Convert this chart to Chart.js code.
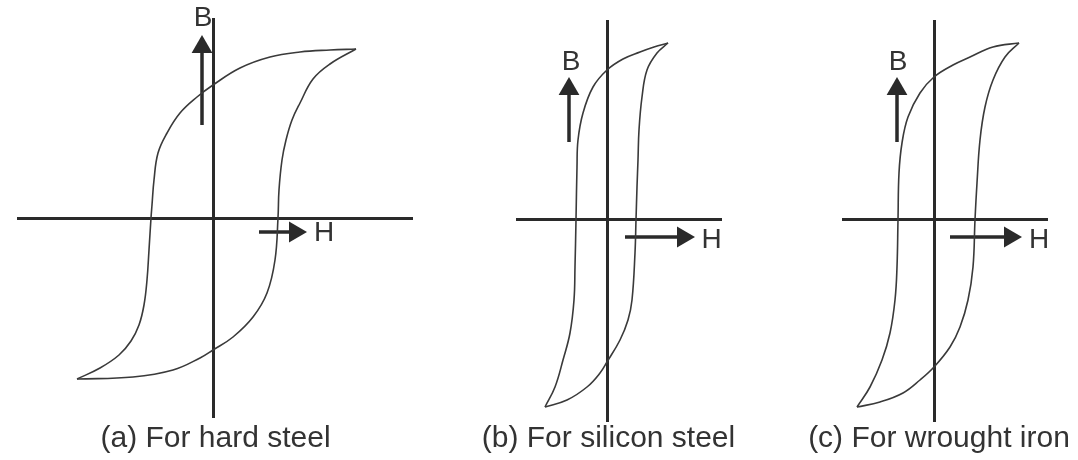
<!DOCTYPE html>
<html>
<head>
<meta charset="utf-8">
<script src="https://cdn.jsdelivr.net/npm/chart.js@4.4.1/dist/chart.umd.min.js"></script>
<style>
  html, body { margin: 0; padding: 0; background: #fff; }
  #wrap { position: relative; width: 1078px; height: 460px; }
  canvas { position: absolute; top: 0; }
</style>
</head>
<body>
<div id="wrap">
  <canvas id="hard" width="430" height="460" style="left:0px"></canvas>
  <canvas id="silicon" width="300" height="460" style="left:460px"></canvas>
  <canvas id="iron" width="288" height="460" style="left:790px"></canvas>
</div>
<script>
// Loop values (H to the right, B upwards, origin where the axes cross)
// (a) hard steel
const hardUpperH = [143, 117, 87, 57, 27, 0, -16, -33, -46, -55, -59, -61, -62, -64, -66, -69, -74, -82, -94, -113, -136];
const hardUpperB = [169, 168, 166, 161, 150, 133, 121, 105, 85, 65, 38, 13, 0, -32, -62, -87, -107, -123, -137, -150, -161];
const hardLowerH = [-136, -80, -40, -13, 0, 20, 40, 54, 62, 65, 66, 69, 73, 79, 87, 100, 117, 143];
const hardLowerB = [-161, -159, -152, -140, -132, -119, -99, -75, -42, 0, 28, 58, 78, 98, 115, 139, 154, 169];

// (b) silicon steel
const siliconUpperH = [61, 47, 33, 16, 0, -14, -24, -29, -30, -31, -32, -33, -37, -44, -52, -62];
const siliconUpperB = [177, 173, 168, 161, 150, 133, 107, 80, 53, 0, -47, -80, -113, -140, -167, -187];
const siliconLowerH = [-62, -40, -20, -7, 0, 13, 21, 25, 28, 29, 30, 31, 32, 35, 40, 50, 61];
const siliconLowerB = [-187, -180, -167, -153, -142, -120, -100, -80, -33, 0, 33, 60, 90, 123, 150, 167, 177];

// (c) wrought iron
const ironUpperH = [85, 59, 36, 19, 0, -14, -26, -32, -35, -36, -37, -39, -44, -52, -64, -77];
const ironUpperB = [177, 173, 163, 155, 143, 127, 103, 77, 47, 0, -47, -80, -113, -140, -167, -187];
const ironLowerH = [-77, -54, -31, -14, 0, 16, 26, 34, 39, 41, 43, 46, 51, 59, 71, 85];
const ironLowerB = [-187, -182, -173, -160, -147, -127, -107, -80, -47, 0, 37, 80, 113, 140, 163, 177];

// direction arrows: [fixed coord, start, end]
const hardArrowB = [-11, 93, 171];
const hardArrowH = [-14, 46, 82];
const siliconArrowB = [-38, 78, 131];
const siliconArrowH = [-17, 18, 76];
const ironArrowB = [-37, 78, 131];
const ironArrowH = [-17, 16, 76];

const captions = ['(a) For hard steel', '(b) For silicon steel', '(c) For wrought iron'];

const FONT = '"Liberation Sans", Arial, Helvetica, sans-serif';
const LOOP = '#3a3a3a';
const INK = '#2a2a2a';

function pts(hs, bs) {
  return hs.map((h, i) => ({ x: h, y: bs[i] }));
}

function branch(hs, bs) {
  return {
    data: pts(hs, bs),
    borderColor: LOOP,
    borderWidth: 1.6,
    pointRadius: 0,
    tension: 0.4,
    fill: false,
    clip: false
  };
}

function arrow(points, rot) {
  return {
    data: points,
    borderColor: INK,
    backgroundColor: INK,
    borderWidth: 3.5,
    pointRadius: [0, 12],
    pointStyle: 'triangle',
    rotation: rot,
    pointBorderWidth: 0,
    pointBackgroundColor: INK,
    tension: 0,
    clip: false
  };
}

const panelText = {
  id: 'panelText',
  afterDraw(chart, args, opts) {
    const { ctx, scales: { x, y } } = chart;
    ctx.save();
    ctx.fillStyle = '#333';
    ctx.textAlign = 'center';
    opts.items.forEach(t => {
      ctx.font = t.size + 'px ' + FONT;
      ctx.textBaseline = t.base || 'middle';
      ctx.fillText(t.text, x.getPixelForValue(t.h), y.getPixelForValue(t.b));
    });
    ctx.restore();
  }
};

function axis(min, max) {
  return {
    type: 'linear',
    min: min,
    max: max,
    ticks: { display: false },
    border: { display: false },
    grid: { drawTicks: false, color: INK, lineWidth: 3 },
    afterBuildTicks: s => { s.ticks = [{ value: 0 }]; }
  };
}

function makePanel(id, p) {
  new Chart(document.getElementById(id), {
    type: 'scatter',
    data: {
      datasets: [
        branch(p.upH, p.upB),
        branch(p.loH, p.loB),
        arrow([{ x: p.arrB[0], y: p.arrB[1] }, { x: p.arrB[0], y: p.arrB[2] }], 0),
        arrow([{ x: p.arrH[1], y: p.arrH[0] }, { x: p.arrH[2], y: p.arrH[0] }], 90)
      ]
    },
    options: {
      responsive: false,
      animation: false,
      showLine: true,
      layout: { padding: p.pad },
      scales: { x: axis(p.x[0], p.x[1]), y: axis(p.y[0], p.y[1]) },
      plugins: {
        legend: { display: false },
        tooltip: { enabled: false },
        panelText: { items: p.text }
      }
    },
    plugins: [panelText]
  });
}

makePanel('hard', {
  upH: hardUpperH, upB: hardUpperB, loH: hardLowerH, loB: hardLowerB,
  arrB: hardArrowB, arrH: hardArrowH,
  x: [-196, 200], y: [-200, 200],
  pad: { left: 17, right: 17, top: 18, bottom: 42 },
  text: [
    { text: 'B', h: -10, b: 200, size: 28 },
    { text: 'H', h: 111, b: -15, size: 28 },
    { text: captions[0], h: 2.5, b: -229, size: 30, base: 'alphabetic' }
  ]
});

makePanel('silicon', {
  upH: siliconUpperH, upB: siliconUpperB, loH: siliconLowerH, loB: siliconLowerB,
  arrB: siliconArrowB, arrH: siliconArrowH,
  x: [-91, 115], y: [-202, 200],
  pad: { left: 56, right: 38, top: 20, bottom: 38 },
  text: [
    { text: 'B', h: -36, b: 158, size: 28 },
    { text: 'H', h: 104.5, b: -20, size: 28 },
    { text: captions[1], h: 1.5, b: -227, size: 30, base: 'alphabetic' }
  ]
});

makePanel('iron', {
  upH: ironUpperH, upB: ironUpperB, loH: ironLowerH, loB: ironLowerB,
  arrB: ironArrowB, arrH: ironArrowH,
  x: [-92, 114], y: [-202, 200],
  pad: { left: 52, right: 30, top: 20, bottom: 38 },
  text: [
    { text: 'B', h: -36, b: 158, size: 28 },
    { text: 'H', h: 105, b: -20, size: 28 },
    { text: captions[2], h: 5, b: -227, size: 30, base: 'alphabetic' }
  ]
});
</script>
</body>
</html>
